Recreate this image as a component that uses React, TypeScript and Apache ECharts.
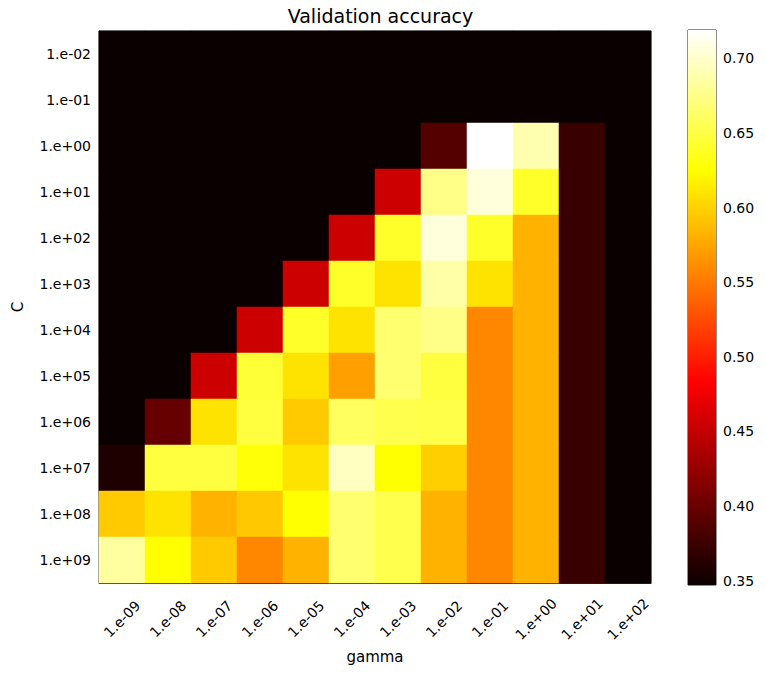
import React, { useEffect, useRef } from "react";
import * as echarts from "echarts";

const gammaLabels = ["1.e-09", "1.e-08", "1.e-07", "1.e-06", "1.e-05", "1.e-04", "1.e-03", "1.e-02", "1.e-01", "1.e+00", "1.e+01", "1.e+02"];
const cLabels = ["1.e-02", "1.e-01", "1.e+00", "1.e+01", "1.e+02", "1.e+03", "1.e+04", "1.e+05", "1.e+06", "1.e+07", "1.e+08", "1.e+09"];

// validation accuracy, rows = C (top to bottom), columns = gamma (left to right)
const row_1em02 = [0.347, 0.347, 0.347, 0.347, 0.347, 0.347, 0.347, 0.347, 0.347, 0.347, 0.347, 0.347];
const row_1em01 = [0.347, 0.347, 0.347, 0.347, 0.347, 0.347, 0.347, 0.347, 0.347, 0.347, 0.347, 0.347];
const row_1ep00 = [0.347, 0.347, 0.347, 0.347, 0.347, 0.347, 0.347, 0.388, 0.719, 0.690, 0.373, 0.347];
const row_1ep01 = [0.347, 0.347, 0.347, 0.347, 0.347, 0.347, 0.455, 0.675, 0.706, 0.640, 0.373, 0.347];
const row_1ep02 = [0.347, 0.347, 0.347, 0.347, 0.347, 0.455, 0.640, 0.706, 0.640, 0.582, 0.373, 0.347];
const row_1ep03 = [0.347, 0.347, 0.347, 0.347, 0.455, 0.640, 0.609, 0.687, 0.609, 0.582, 0.373, 0.347];
const row_1ep04 = [0.347, 0.347, 0.347, 0.455, 0.640, 0.609, 0.666, 0.675, 0.558, 0.582, 0.373, 0.347];
const row_1ep05 = [0.347, 0.347, 0.455, 0.645, 0.609, 0.572, 0.666, 0.648, 0.558, 0.582, 0.373, 0.347];
const row_1ep06 = [0.347, 0.398, 0.609, 0.648, 0.596, 0.660, 0.653, 0.652, 0.558, 0.582, 0.373, 0.347];
const row_1ep07 = [0.358, 0.648, 0.648, 0.627, 0.609, 0.696, 0.625, 0.598, 0.558, 0.582, 0.373, 0.347];
const row_1ep08 = [0.596, 0.609, 0.582, 0.594, 0.625, 0.666, 0.653, 0.582, 0.558, 0.582, 0.373, 0.347];
const row_1ep09 = [0.684, 0.625, 0.596, 0.558, 0.582, 0.666, 0.653, 0.582, 0.558, 0.582, 0.373, 0.347];

const accuracyRows = [row_1em02, row_1em01, row_1ep00, row_1ep01, row_1ep02, row_1ep03, row_1ep04, row_1ep05, row_1ep06, row_1ep07, row_1ep08, row_1ep09];

const colorbarTicks = [0.35, 0.40, 0.45, 0.50, 0.55, 0.60, 0.65, 0.70];
const vMin = 0.347;
const vMax = 0.719;

// matplotlib "hot" colormap
function hot(t: number): string {
  const c = (x: number) => Math.max(0, Math.min(1, x));
  const r = c(0.0416 + (1 - 0.0416) * t / 0.365079);
  const g = c((t - 0.365079) / (0.746032 - 0.365079));
  const b = c((t - 0.746032) / (1 - 0.746032));
  const h = (x: number) => Math.round(x * 255).toString(16).padStart(2, "0");
  return "#" + h(r) + h(g) + h(b);
}

const FONT = "DejaVu Sans";

export default function App() {
  const ref = useRef<HTMLDivElement>(null);
  useEffect(() => {
    if (!ref.current) return;
    const chart = echarts.init(ref.current, undefined, { renderer: "svg" });
    const data: number[][] = [];
    accuracyRows.forEach((row, yi) => row.forEach((v, xi) => data.push([xi, yi, v])));
    const palette: string[] = [];
    for (let i = 0; i <= 255; i++) palette.push(hot(i / 255));

    const gradient = new echarts.graphic.LinearGradient(0, 0, 0, 1, [
      { offset: 0, color: hot(1) },
      { offset: 1 - 0.746032, color: hot(0.746032) },
      { offset: 1 - 0.365079, color: hot(0.365079) },
      { offset: 1, color: hot(0) },
    ]);

    chart.setOption({
      animation: false,
      backgroundColor: "#ffffff",
      textStyle: { fontFamily: FONT, color: "#000" },
      title: {
        text: "Validation accuracy",
        left: 375.5,
        textAlign: "center",
        top: 1,
        textStyle: { fontFamily: FONT, fontSize: 19, fontWeight: "normal", color: "#000" },
      },
      grid: [
        { left: 99, top: 31, width: 552, height: 552, show: true, borderColor: "#222", borderWidth: 1, backgroundColor: "transparent" },
        { left: 688, top: 30, width: 28, height: 555, show: true, borderColor: "#222", borderWidth: 1, backgroundColor: "transparent" },
      ],
      xAxis: [
        {
          type: "category",
          gridIndex: 0,
          data: gammaLabels,
          name: "gamma",
          nameLocation: "middle",
          nameGap: 60,
          nameTextStyle: { fontFamily: FONT, fontSize: 15, color: "#000" },
          axisLine: { lineStyle: { color: "#222" } },
          axisTick: { alignWithLabel: true, length: 5, lineStyle: { color: "#222" } },
          axisLabel: {
            rotate: 45,
            align: "center",
            verticalAlign: "middle",
            fontFamily: FONT,
            fontSize: 14,
            color: "#000",
            margin: 36,
            interval: 0,
          },
          splitLine: { show: false },
        },
        { type: "value", gridIndex: 1, min: 0, max: 1, show: false },
      ],
      yAxis: [
        {
          type: "category",
          gridIndex: 0,
          data: cLabels,
          inverse: true,
          name: "C",
          nameLocation: "middle",
          nameGap: 74,
          nameTextStyle: { fontFamily: FONT, fontSize: 15, color: "#000" },
          axisLine: { lineStyle: { color: "#222" } },
          axisTick: { alignWithLabel: true, length: 5, lineStyle: { color: "#222" } },
          axisLabel: { fontFamily: FONT, fontSize: 14, color: "#000", margin: 8, interval: 0 },
          splitLine: { show: false },
        },
        {
          type: "value",
          gridIndex: 1,
          position: "right",
          min: vMin,
          max: vMax,
          axisLine: { show: false },
          axisTick: { show: true, length: 5, customValues: colorbarTicks, lineStyle: { color: "#222" } },
          axisLabel: {
            customValues: colorbarTicks,
            fontFamily: FONT,
            fontSize: 14,
            color: "#000",
            margin: 7,
            formatter: (v: number) => v.toFixed(2),
          },
          splitLine: { show: false },
        },
      ],
      visualMap: {
        type: "continuous",
        show: false,
        min: vMin,
        max: vMax,
        seriesIndex: 0,
        dimension: 2,
        inRange: { color: palette },
      },
      series: [
        {
          type: "heatmap",
          xAxisIndex: 0,
          yAxisIndex: 0,
          data,
          itemStyle: { borderWidth: 0 },
          emphasis: { disabled: true },
        },
        {
          type: "custom",
          xAxisIndex: 1,
          yAxisIndex: 1,
          data: [[0, vMin, vMax]],
          renderItem: (params: any, api: any) => {
            const p0 = api.coord([0, api.value(2)]);
            const p1 = api.coord([1, api.value(1)]);
            return {
              type: "rect",
              shape: { x: p0[0], y: p0[1], width: p1[0] - p0[0], height: p1[1] - p0[1] },
              style: { fill: gradient },
              silent: true,
            };
          },
          z: 1,
        },
      ],
    });
    return () => chart.dispose();
  }, []);
  return <div ref={ref} style={{ position: "absolute", left: 0, top: 0, width: 766, height: 674 }} />;
}
